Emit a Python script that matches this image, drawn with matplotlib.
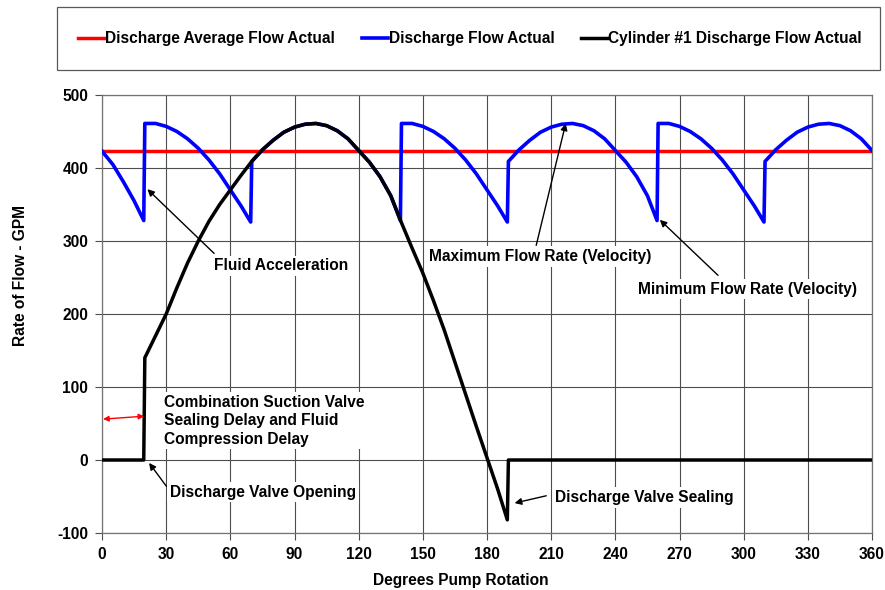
import numpy as np
import matplotlib.pyplot as plt
from matplotlib.patches import Rectangle

plt.rcParams['font.family'] = ['Liberation Sans', 'DejaVu Sans']
plt.rcParams['font.weight'] = 'bold'
plt.rcParams['axes.labelweight'] = 'bold'
plt.rcParams['font.size'] = 11.2
plt.rcParams['axes.unicode_minus'] = False

# discharge average flow (GPM)
red_x = [0, 360]
red_y = [423, 423]

# total discharge flow (GPM)
blue_x = [0, 5, 10, 15, 19.5,
          20, 25, 30, 35, 40, 45, 50, 55, 60, 65, 69.5,
          70, 75, 80, 85, 90, 95, 100, 105, 110, 115, 120, 125, 130, 135, 139.5,
          140, 145, 150, 155, 160, 165, 170, 175, 180, 185, 189.5,
          190, 195, 200, 205, 210, 215, 220, 225, 230, 235, 240, 245, 250, 255, 259.5,
          260, 265, 270, 275, 280, 285, 290, 295, 300, 305, 309.5,
          310, 315, 320, 325, 330, 335, 340, 345, 350, 355, 360]
blue_y = [423, 405, 381, 355, 328,
          461, 461, 457, 450, 440, 427, 411, 392, 370, 348, 326,
          409, 425, 438, 449, 456, 460, 461, 458, 451, 440, 424, 408, 388, 362, 328,
          461, 461, 457, 450, 440, 427, 411, 392, 370, 348, 326,
          409, 425, 438, 449, 456, 460, 461, 458, 451, 440, 424, 408, 388, 362, 328,
          461, 461, 457, 450, 440, 427, 411, 392, 370, 348, 326,
          409, 425, 438, 449, 456, 460, 461, 458, 451, 440, 424]

# cylinder #1 discharge flow (GPM)
black_x = [0, 19.5, 20, 25, 30, 35, 40, 45, 50, 55, 60, 65, 70, 75, 80, 85, 90, 95,
           100, 105, 110, 115, 120, 125, 130, 135, 140, 145, 150, 155, 160, 165,
           170, 175, 180, 185, 189.5, 190, 360]
black_y = [0, 0, 140, 170, 200, 236, 270, 300, 327, 350, 370, 390, 409, 425, 438, 449, 456, 460,
           461, 458, 451, 440, 424, 408, 388, 362, 325, 290, 256, 218, 178, 134,
           90, 46, 3, -40, -82, 0, 0]

fig = plt.figure(figsize=(8.85, 5.9), dpi=100)
ax = fig.add_axes([0.1153, 0.0966, 0.87, 0.7424])

l1, = ax.plot(red_x, red_y, color='#ff0000', lw=2.5, zorder=3,
              label='Discharge Average Flow Actual')
l2, = ax.plot(blue_x, blue_y, color='#0000ff', lw=2.6, zorder=4,
              label='Discharge Flow Actual')
l3, = ax.plot(black_x, black_y, color='black', lw=2.5, zorder=5,
              label='Cylinder #1 Discharge Flow Actual')

ax.set_xlim(0, 360)
ax.set_ylim(-100, 500)
ax.set_xticks(np.arange(0, 361, 30))
ax.set_yticks(np.arange(-100, 501, 100))
ax.grid(True, color='0.3', lw=0.8, zorder=0)
ax.set_axisbelow(True)
ax.tick_params(direction='out', length=5, width=0.8, color='0.3', labelsize=11.2, pad=5)
for s in ax.spines.values():
    s.set_color('0.45')
    s.set_linewidth(0.9)

ax.set_xlabel('Degrees Pump Rotation')
ax.xaxis.set_label_coords(0.466, -0.092)
ax.set_ylabel('Rate of Flow - GPM')
ax.yaxis.set_label_coords(-0.096, 0.587)

box = dict(facecolor='white', edgecolor='none', pad=2)
arr = dict(arrowstyle='-|>', color='black', lw=1.0, mutation_scale=10, shrinkA=0, shrinkB=0)

ax.text(52.4, 266, 'Fluid Acceleration', va='center', ha='left', bbox=box, zorder=2)
ax.annotate('', xy=(21.2, 371), xytext=(52.4, 283), arrowprops=arr, zorder=6)

ax.text(153, 278.5, 'Maximum Flow Rate (Velocity)', va='center', ha='left', bbox=box, zorder=2)
ax.annotate('', xy=(216.8, 461), xytext=(203, 294), arrowprops=arr, zorder=6)

ax.text(250.6, 234, 'Minimum Flow Rate (Velocity)', va='center', ha='left', bbox=box, zorder=2)
ax.annotate('', xy=(260.8, 329), xytext=(288, 253), arrowprops=arr, zorder=6)

ax.text(29, 53.5, 'Combination Suction Valve\nSealing Delay and Fluid\nCompression Delay',
        va='center', ha='left', linespacing=1.27, bbox=box, zorder=2)
ax.annotate('', xy=(19.7, 60), xytext=(0.5, 56),
            arrowprops=dict(arrowstyle='<|-|>', color='red', lw=1.0, mutation_scale=8,
                            shrinkA=0, shrinkB=0), zorder=6)

ax.text(31.8, -44, 'Discharge Valve Opening', va='center', ha='left', bbox=box, zorder=2)
ax.annotate('', xy=(22, -4), xytext=(30.1, -36), arrowprops=arr, zorder=6)

ax.text(212, -51, 'Discharge Valve Sealing', va='center', ha='left', bbox=box, zorder=2)
ax.annotate('', xy=(192.9, -59), xytext=(207.7, -49), arrowprops=arr, zorder=6)

# legend box on top
fig.patches.append(Rectangle((0.0644, 0.881), 0.93, 0.107, transform=fig.transFigure,
                             facecolor='white', edgecolor='0.35', lw=0.9))
fig.legend(handles=[l1, l2, l3], loc='center', bbox_to_anchor=(0.531, 0.934),
           ncol=3, frameon=False, handlelength=1.7, handletextpad=0.05,
           columnspacing=1.7, fontsize=11.2)

fig.savefig('out.png', dpi=100)
